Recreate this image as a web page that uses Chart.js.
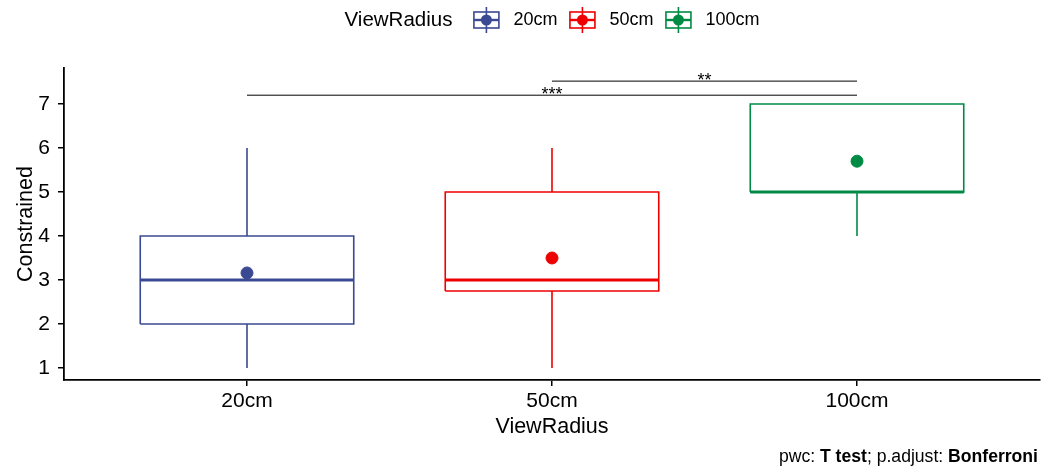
<!DOCTYPE html>
<html>
<head>
<meta charset="utf-8">
<script src="https://cdn.jsdelivr.net/npm/chart.js@4.4.1/dist/chart.umd.min.js"></script>
<style>
  html, body { margin: 0; padding: 0; background: #fff; }
  #wrap { width: 1058px; height: 467px; }
</style>
</head>
<body>
<div id="wrap"><canvas id="chart"></canvas></div>
<script>
const groups = ['20cm', '50cm', '100cm'];
const colors = ['#3B4992', '#EE0000', '#008B45'];
const whiskerLow  = [1, 1, 4];
const q1          = [2, 2.75, 5];
const median      = [3, 3, 5];
const q3          = [4, 5, 7];
const whiskerHigh = [6, 6, 7];
const means       = [3.16, 3.5, 5.7];
const yTicks = [1, 2, 3, 4, 5, 6, 7];

// pairwise comparisons
const bracketFrom  = ['20cm', '50cm'];
const bracketTo    = ['100cm', '100cm'];
const bracketY     = [7.2, 7.52];
const bracketLabel = ['***', '**'];

const BOX_HALF = 0.35;
const FONT = "'Liberation Sans', Arial, Helvetica, sans-serif";

const pos = g => groups.indexOf(g) + 1;
const seg = (x1, y1, x2, y2) => [{ x: x1, y: y1 }, { x: x2, y: y2 }];

function lineSet(data, color, width) {
  return {
    data, showLine: true, borderColor: color, borderWidth: width,
    pointRadius: 0, pointHoverRadius: 0, fill: false, tension: 0,
    borderJoinStyle: 'miter', borderCapStyle: 'butt', order: 2
  };
}

const datasets = [];
groups.forEach((g, i) => {
  const x = i + 1, c = colors[i];
  datasets.push(lineSet(seg(x, whiskerLow[i], x, q1[i]), c, 1.6));
  datasets.push(lineSet(seg(x, q3[i], x, whiskerHigh[i]), c, 1.6));
  datasets.push(lineSet([
    { x: x - BOX_HALF, y: q1[i] }, { x: x + BOX_HALF, y: q1[i] },
    { x: x + BOX_HALF, y: q3[i] }, { x: x - BOX_HALF, y: q3[i] },
    { x: x - BOX_HALF, y: q1[i] }
  ], c, 1.6));
  datasets.push(lineSet(seg(x - BOX_HALF, median[i], x + BOX_HALF, median[i]), c, 3.2));
  datasets.push({
    data: [{ x, y: means[i] }], backgroundColor: c, borderColor: c,
    pointRadius: 6, pointHoverRadius: 6, order: 1
  });
});
bracketFrom.forEach((f, i) => {
  datasets.push(lineSet(seg(pos(f), bracketY[i], pos(bracketTo[i]), bracketY[i]), '#000', 1));
});

const starsPlugin = {
  id: 'stars',
  afterDatasetsDraw(chart) {
    const { ctx, scales: { x, y } } = chart;
    ctx.save();
    ctx.font = `18px ${FONT}`;
    ctx.fillStyle = '#000';
    ctx.textAlign = 'center';
    ctx.textBaseline = 'alphabetic';
    bracketLabel.forEach((lab, i) => {
      const cx = (x.getPixelForValue(pos(bracketFrom[i])) + x.getPixelForValue(pos(bracketTo[i]))) / 2;
      ctx.fillText(lab, cx, y.getPixelForValue(bracketY[i]) + 4.5);
    });
    ctx.restore();
  }
};

const legendPlugin = {
  id: 'ggLegend',
  afterDraw(chart) {
    const { ctx, chartArea } = chart;
    const cy = 20;
    const glyphW = 26, glyphH = 16, gapTitle = 21, gapText = 14, gapItem = 12;
    ctx.save();
    ctx.font = `20.5px ${FONT}`;
    const titleW = ctx.measureText('ViewRadius').width;
    ctx.font = `18px ${FONT}`;
    const textW = groups.map(g => ctx.measureText(g).width);
    const total = titleW + gapTitle + groups.length * (glyphW + gapText)
      + textW.reduce((a, b) => a + b, 0) + gapItem * (groups.length - 1);
    let x = (chartArea.left + chartArea.right) / 2 - total / 2;
    ctx.fillStyle = '#000';
    ctx.textBaseline = 'middle';
    ctx.textAlign = 'left';
    ctx.font = `20.5px ${FONT}`;
    ctx.fillText('ViewRadius', x, cy);
    x += titleW + gapTitle;
    groups.forEach((g, i) => {
      const c = colors[i];
      const mx = x + glyphW / 2;
      ctx.strokeStyle = c;
      ctx.lineWidth = 1.6;
      ctx.beginPath();
      ctx.moveTo(mx, cy - 13); ctx.lineTo(mx, cy + 13);
      ctx.stroke();
      ctx.strokeRect(x + 0.5, cy - glyphH / 2, glyphW - 1, glyphH);
      ctx.lineWidth = 2.4;
      ctx.beginPath();
      ctx.moveTo(x + 0.5, cy); ctx.lineTo(x + glyphW - 0.5, cy);
      ctx.stroke();
      ctx.fillStyle = c;
      ctx.beginPath();
      ctx.arc(mx, cy, 5.5, 0, Math.PI * 2);
      ctx.fill();
      x += glyphW + gapText;
      ctx.fillStyle = '#000';
      ctx.font = `18px ${FONT}`;
      ctx.fillText(g, x, cy + 0.5);
      x += textW[i] + gapItem;
    });

    // caption
    const parts = [['pwc: ', false], ['T test', true], ['; p.adjust: ', false], ['Bonferroni', true]];
    const fontOf = b => `${b ? 'bold ' : ''}17.6px ${FONT}`;
    let w = 0;
    parts.forEach(([t, b]) => { ctx.font = fontOf(b); w += ctx.measureText(t).width; });
    let px = 1038 - w;
    ctx.textBaseline = 'alphabetic';
    parts.forEach(([t, b]) => {
      ctx.font = fontOf(b);
      ctx.fillText(t, px, 462);
      px += ctx.measureText(t).width;
    });
    ctx.restore();
  }
};

new Chart(document.getElementById('chart'), {
  type: 'scatter',
  data: { datasets },
  plugins: [starsPlugin, legendPlugin],
  options: {
    responsive: true,
    maintainAspectRatio: false,
    animation: false,
    events: [],
    layout: { padding: { top: 68, right: 18, bottom: 0, left: 0 } },
    plugins: { legend: { display: false }, tooltip: { enabled: false } },
    scales: {
      x: {
        type: 'linear', min: 0.4, max: 3.6,
        afterBuildTicks: s => { s.ticks = groups.map((g, i) => ({ value: i + 1 })); },
        afterFit: s => { s.height = 87; },
        ticks: {
          color: '#000', padding: 3,
          font: { family: FONT, size: 21 },
          callback: v => groups[v - 1]
        },
        grid: { drawOnChartArea: false, drawTicks: true, tickLength: 6, color: '#000', lineWidth: 1.5 },
        border: { display: true, color: '#000', width: 1.8 },
        title: {
          display: true, text: 'ViewRadius', color: '#000',
          font: { family: FONT, size: 21.5 }, padding: { top: 0, bottom: 27 }
        }
      },
      y: {
        type: 'linear', min: 0.727, max: 7.818,
        afterBuildTicks: s => { s.ticks = yTicks.map(v => ({ value: v })); },
        afterFit: s => { s.width = 64; },
        ticks: { color: '#000', padding: 8, font: { family: FONT, size: 21 } },
        grid: { drawOnChartArea: false, drawTicks: true, tickLength: 6, color: '#000', lineWidth: 1.5 },
        border: { display: true, color: '#000', width: 1.8 },
        title: {
          display: true, text: 'Constrained', color: '#000',
          font: { family: FONT, size: 21.5 }, padding: { top: 13, bottom: 0 }
        }
      }
    }
  }
});
</script>
</body>
</html>
